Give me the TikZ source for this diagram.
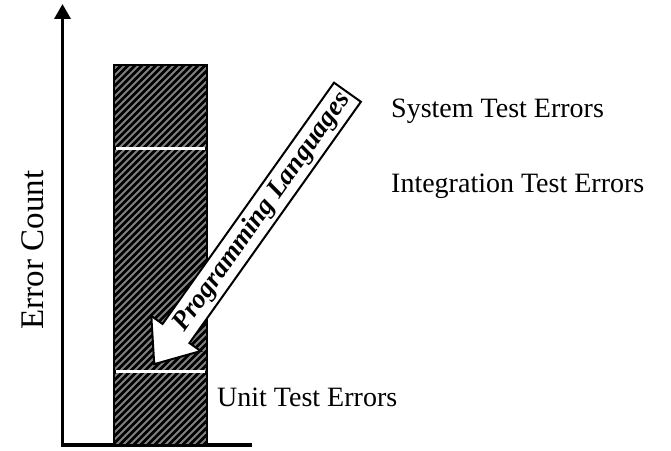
\documentclass[tikz,border=0pt]{standalone}
\usepackage{fontspec}
\setmainfont{Liberation Serif}
\usetikzlibrary{arrows.meta}

\tikzset{
  axisline/.style={line width=3.5pt, line join=miter},
  errlabel/.style={anchor=base west, inner sep=0pt, font=\fontsize{28}{33}\selectfont},
}

\begin{document}
\begin{tikzpicture}[x=1pt,y=1pt]
\useasboundingbox (0,0) rectangle (671,450);
% Draw the axes
\coordinate (origin) at (62.5,5);
\coordinate (xend) at (252,5);
\coordinate (ytop) at (62.5,446);
\draw[axisline,-{Triangle[width=16pt,length=15pt]}] (xend) -- (origin) -- (ytop);
\node[rotate=90, inner sep=0pt, font=\fontsize{33}{38}\selectfont] (ylabel) at (33,200) {Error Count};
% Hatched error bar
\coordinate (barsw) at (114,5);
\coordinate (barne) at (207,385);
\begin{scope}
\clip (barsw) rectangle (barne);
\fill[black] (barsw) rectangle (barne);
\foreach \i in {-400,-393,...,210}
  \draw[gray, line width=2pt] (\i,0) -- ++(450,450);
\end{scope}
\draw[line width=2pt] (barsw) rectangle (barne);
% Separators between the kinds of errors
\draw[white, line width=3pt] (116,301) -- (205,301);
\draw[white, line width=3pt] (116,79) -- (205,79);
% The big arrow
\begin{scope}[shift={(176,116.5)}, rotate=54.6]
\draw[line width=2pt, fill=white, line join=miter] (-37.6,0) -- (0,30.3) -- (0,16.5) -- (296,16.5)
  -- (296,-16.5) -- (0,-16.5) -- (0,-30.3) -- cycle;
\node[rotate=54.6, inner sep=0pt, font=\fontsize{27}{31}\selectfont\bfseries\itshape] (lang) at (149,0) {Programming Languages};
\end{scope}
% Label the errors
\node[errlabel] (system) at (391,332) {System Test Errors};
\node[errlabel] (integ) at (391,257) {Integration Test Errors};
\node[errlabel] (unit) at (217,44) {Unit Test Errors};
\end{tikzpicture}
\end{document}
